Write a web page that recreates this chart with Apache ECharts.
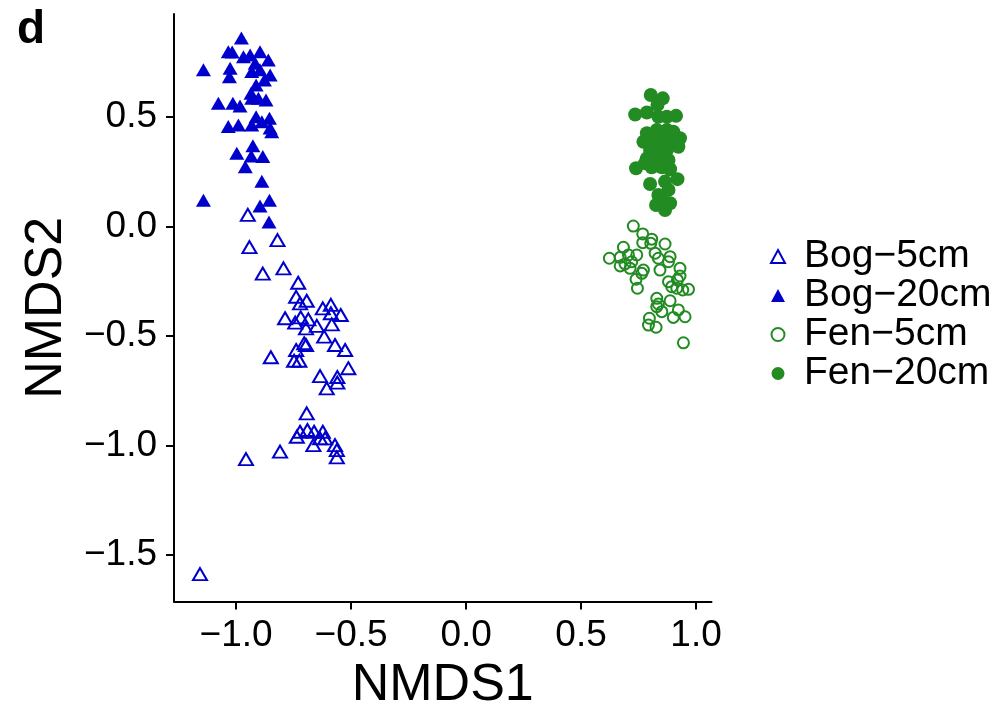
<!DOCTYPE html>
<html lang="en">

<head>
    <meta charset="UTF-8">
    <title>NMDS</title>
    <script src="https://cdn.jsdelivr.net/npm/echarts@6/dist/echarts.min.js"></script>
    <style>
        body { margin: 0; background: #fff; }
    </style>
</head>

<body>
    <div id="main" style="width: 1002px; height: 709px;"></div>
    <script>
        // NMDS1 / NMDS2 scores
        const bog5 = [
            [-0.949, 0.053], [-0.820, -0.062], [-0.942, -0.094], [-0.884, -0.215], [-0.794, -0.191],
            [-0.730, -0.257], [-0.739, -0.321], [-0.693, -0.339], [-0.722, -0.351], [-0.623, -0.374],
            [-0.588, -0.358], [-0.588, -0.396], [-0.545, -0.404], [-0.787, -0.419], [-0.743, -0.439],
            [-0.719, -0.415], [-0.686, -0.424], [-0.696, -0.465], [-0.649, -0.454], [-0.584, -0.447],
            [-0.617, -0.503], [-0.704, -0.533], [-0.696, -0.541], [-0.570, -0.541], [-0.526, -0.564],
            [-0.739, -0.564], [-0.849, -0.597], [-0.748, -0.613], [-0.725, -0.613], [-0.512, -0.647],
            [-0.635, -0.683], [-0.560, -0.687], [-0.606, -0.739], [-0.560, -0.713], [-0.693, -0.853],
            [-0.736, -0.960], [-0.722, -0.937], [-0.690, -0.929], [-0.661, -0.937], [-0.623, -0.937],
            [-0.635, -0.967], [-0.613, -0.967], [-0.664, -0.998], [-0.570, -0.998], [-0.562, -1.021],
            [-0.562, -1.054], [-0.809, -1.028], [-0.957, -1.062], [-1.157, -1.587]
        ]
        const bog20 = [
            [-0.977, 0.860], [-1.142, 0.715], [-1.034, 0.798], [-1.017, 0.797], [-1.026, 0.722],
            [-1.029, 0.684], [-0.968, 0.775], [-0.939, 0.783], [-0.896, 0.798], [-0.860, 0.760],
            [-0.917, 0.745], [-0.932, 0.707], [-0.896, 0.715], [-0.852, 0.692], [-0.877, 0.669],
            [-0.913, 0.646], [-0.935, 0.608], [-0.932, 0.585], [-0.903, 0.585], [-0.870, 0.577],
            [-1.077, 0.563], [-1.014, 0.563], [-0.983, 0.550], [-0.913, 0.501], [-0.855, 0.494],
            [-1.034, 0.456], [-0.990, 0.463], [-0.932, 0.463], [-0.852, 0.450], [-0.888, 0.478],
            [-0.845, 0.433], [-0.997, 0.334], [-0.927, 0.368], [-0.934, 0.322], [-0.884, 0.319],
            [-0.960, 0.273], [-0.888, 0.207], [-1.142, 0.120], [-0.855, 0.120], [-0.896, 0.093],
            [-0.857, 0.021]
        ]
        const fen5 = [
            [0.727, 0.002], [0.768, -0.034], [0.807, -0.058], [0.768, -0.074], [0.803, -0.077],
            [0.865, -0.080], [0.684, -0.095], [0.623, -0.145], [0.670, -0.141], [0.706, -0.130],
            [0.742, -0.130], [0.670, -0.180], [0.691, -0.171], [0.720, -0.161], [0.713, -0.191],
            [0.771, -0.199], [0.764, -0.214], [0.822, -0.122], [0.836, -0.145], [0.887, -0.138],
            [0.880, -0.161], [0.843, -0.199], [0.930, -0.191], [0.930, -0.226], [0.880, -0.252],
            [0.919, -0.244], [0.894, -0.275], [0.916, -0.282], [0.942, -0.290], [0.967, -0.287],
            [0.739, -0.241], [0.745, -0.282], [0.829, -0.328], [0.836, -0.354], [0.887, -0.339],
            [0.829, -0.366], [0.851, -0.389], [0.923, -0.381], [0.901, -0.415], [0.952, -0.412],
            [0.797, -0.419], [0.793, -0.450], [0.826, -0.460], [0.945, -0.531]
        ]
        const fen20 = [
            [0.803, 0.600], [0.855, 0.585], [0.832, 0.555], [0.735, 0.511], [0.786, 0.520],
            [0.836, 0.501], [0.873, 0.501], [0.913, 0.505], [0.786, 0.426], [0.829, 0.441],
            [0.873, 0.441], [0.901, 0.433], [0.930, 0.403], [0.771, 0.387], [0.814, 0.387],
            [0.858, 0.395], [0.894, 0.387], [0.923, 0.364], [0.800, 0.349], [0.836, 0.349],
            [0.873, 0.349], [0.786, 0.311], [0.822, 0.311], [0.858, 0.311], [0.880, 0.304],
            [0.778, 0.289], [0.807, 0.270], [0.851, 0.270], [0.887, 0.261], [0.739, 0.266],
            [0.800, 0.194], [0.865, 0.205], [0.919, 0.216], [0.880, 0.167], [0.836, 0.144],
            [0.826, 0.098], [0.865, 0.075], [0.887, 0.106], [0.858, 0.113]
        ]
        const groupNames = ['Bog\u22125cm', 'Bog\u221220cm', 'Fen\u22125cm', 'Fen\u221220cm']
        const xTicks = [-1, -0.5, 0, 0.5, 1]
        const yTicks = [-1.5, -1, -0.5, 0, 0.5]

        const BLUE = '#0000CD'
        const GREEN = '#228B22'
        const FONT = 'Liberation Sans, Arial, Helvetica, sans-serif'

        const fmt = (v) => (v < 0 ? '\u2212' : '') + Math.abs(v).toFixed(1)

        const axisCommon = {
            type: 'value',
            nameLocation: 'middle',
            nameTextStyle: { fontSize: 52, color: '#000', fontFamily: FONT },
            splitLine: { show: false },
            axisLine: { onZero: false, lineStyle: { color: '#000', width: 2 } },
            axisLabel: { fontSize: 37, color: '#000', fontFamily: FONT, formatter: fmt },
            axisTick: { length: 8, lineStyle: { color: '#000', width: 2 } }
        }

        var chart = echarts.init(document.querySelector('#main'), null, { renderer: 'canvas' })

        var option = {
            animation: false,
            backgroundColor: '#fff',
            title: {
                text: 'd',
                left: 12,
                top: 2,
                textStyle: { fontSize: 46, fontWeight: 'bold', color: '#000', fontFamily: FONT }
            },
            grid: { left: 174, right: 290.5, top: 14, bottom: 107.5, outerBoundsMode: 'none', containLabel: false },
            xAxis: Object.assign({}, axisCommon, {
                name: 'NMDS1',
                nameGap: 54,
                min: -1.27,
                max: 1.067,
                axisLabel: Object.assign({}, axisCommon.axisLabel, { margin: 16, customValues: xTicks }),
                axisTick: Object.assign({}, axisCommon.axisTick, { customValues: xTicks })
            }),
            yAxis: Object.assign({}, axisCommon, {
                name: 'NMDS2',
                nameGap: 96,
                min: -1.712,
                max: 0.970,
                axisLabel: Object.assign({}, axisCommon.axisLabel, { margin: 17, customValues: yTicks }),
                axisTick: Object.assign({}, axisCommon.axisTick, { customValues: yTicks })
            }),
            legend: {
                orient: 'vertical',
                left: 770,
                top: 237,
                padding: 0,
                itemGap: 0,
                itemWidth: 14,
                itemHeight: 13,
                textStyle: {
                    fontSize: 39, color: '#000', fontFamily: FONT,
                    lineHeight: 38, padding: [0, 0, 0, 14]
                },
                data: groupNames
            },
            series: [
                {
                    name: groupNames[0], type: 'scatter', symbol: 'triangle', symbolSize: [14, 12],
                    itemStyle: { color: 'rgba(0,0,0,0)', borderColor: BLUE, borderWidth: 2, opacity: 1 },
                    data: bog5
                },
                {
                    name: groupNames[1], type: 'scatter', symbol: 'triangle', symbolSize: [15, 13],
                    itemStyle: { color: BLUE, opacity: 1 },
                    data: bog20
                },
                {
                    name: groupNames[2], type: 'scatter', symbol: 'circle', symbolSize: 11,
                    itemStyle: { color: 'rgba(0,0,0,0)', borderColor: GREEN, borderWidth: 2, opacity: 1 },
                    data: fen5
                },
                {
                    name: groupNames[3], type: 'scatter', symbol: 'circle', symbolSize: 14,
                    itemStyle: { color: GREEN, opacity: 1 },
                    data: fen20
                }
            ]
        }

        chart.setOption(option)
    </script>
</body>

</html>
